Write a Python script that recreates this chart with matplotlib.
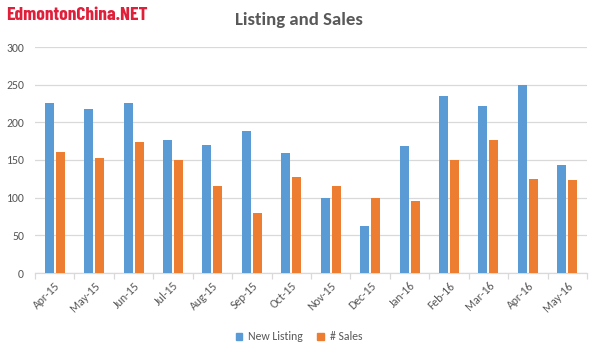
import matplotlib
matplotlib.use("Agg")
import matplotlib.pyplot as plt
import numpy as np
from matplotlib.patches import Patch

categories = ["Apr-15", "May-15", "Jun-15", "Jul-15", "Aug-15", "Sep-15", "Oct-15",
              "Nov-15", "Dec-15", "Jan-16", "Feb-16", "Mar-16", "Apr-16", "May-16"]
new_listing = [226, 218, 226, 177, 170, 189, 159, 100, 63, 169, 235, 222, 250, 143]
sales = [161, 153, 174, 150, 116, 80, 128, 116, 100, 96, 150, 177, 125, 124]
yticks = [0, 50, 100, 150, 200, 250, 300]

blue = "#5B9BD5"
orange = "#ED7D31"
text_c = "#595959"
grid_c = "#D9D9D9"

plt.rcParams['font.family'] = ['Carlito', 'Lato', 'DejaVu Sans']

fig = plt.figure(figsize=(5.98, 3.56), dpi=100)
ax = fig.add_axes([35/598, 83/356, 552/598, 226/356])

x = np.arange(len(categories))
w = 0.23
gap = 0.05
ax.bar(x - (w + gap)/2, new_listing, width=w, color=blue, zorder=3)
ax.bar(x + (w + gap)/2, sales, width=w, color=orange, zorder=3)

ax.set_xlim(-0.5, len(categories) - 0.5)
ax.set_ylim(0, 300)
ax.set_yticks(yticks)
ax.set_yticklabels([str(v) for v in yticks], fontsize=8.5, color=text_c)
ax.tick_params(axis='y', length=0, pad=8)
ax.yaxis.grid(True, color=grid_c, linewidth=0.9, zorder=0)

ax.set_xticks(x)
ax.set_xticklabels(categories, rotation=45, ha='right', rotation_mode='anchor',
                   fontsize=8.5, color=text_c)
ax.tick_params(axis='x', which='major', length=0, pad=5)
ax.set_xticks(np.arange(-0.5, len(categories), 1), minor=True)
ax.tick_params(axis='x', which='minor', length=4, color=grid_c, width=0.9)

for s in ['top', 'right', 'left']:
    ax.spines[s].set_visible(False)
ax.spines['bottom'].set_color(grid_c)
ax.spines['bottom'].set_linewidth(0.9)

fig.text(299/598, 1 - 20/356, "Listing and Sales", ha='center', va='center',
         fontsize=13.5, fontweight='bold', color=text_c)
fig.text(6/598, 1 - 15/356, "EdmontonChina.NET", ha='left', va='center',
         fontsize=14, fontweight='bold', color="#E0203A",
         family=['Barlow Condensed', 'Asap Condensed', 'DejaVu Sans'])

handles = [Patch(color=blue, label="New Listing"), Patch(color=orange, label="# Sales")]
fig.legend(handles=handles, loc='center', bbox_to_anchor=(0.5, 1 - 337/356), ncol=2,
           frameon=False, fontsize=8.5, handlelength=0.55, handleheight=0.55,
           handletextpad=0.5, columnspacing=1.2, labelcolor=text_c)

fig.savefig("out.png", dpi=100)
